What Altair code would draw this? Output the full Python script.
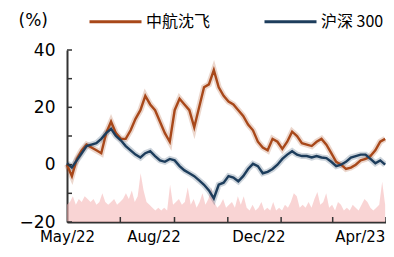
import altair as alt
import pandas as pd

series_names = ["中航沈飞", "沪深 300"]
series_colors = ["#a8481a", "#1d3d5c"]

# cumulative return (%), evenly spaced from May/22 to end Apr/23
avic = [0, -4, 2, 5, 7, 6, 5, 4, 11, 15, 11, 9, 9, 12, 16, 19, 24, 21, 19, 15,
        11, 8, 19, 23, 21, 19, 13, 20, 27, 28, 33, 27, 24, 22, 21, 19, 17, 14, 12, 8,
        6, 5, 9, 8, 5.5, 8, 11.5, 10, 7.5, 7, 6.5, 8, 9, 7, 4, 1, 0, -1.5, -1, 0,
        1.5, 2, 3, 5, 8, 9]
hs300 = [0.5, -1, 1.5, 4, 6.5, 7, 7.5, 9, 11, 12.5, 10, 8.5, 6.5, 5, 3.5, 2.5, 4, 4.7, 3, 1.5,
         1, 2, 1.5, -0.5, -2, -3, -4, -5.5, -7, -9, -11.8, -7, -6.3, -4, -4.5, -5.8, -4, -1.5, 0.3, -0.5,
         -3, -2.5, -1.5, 0, 2, 3.5, 4.7, 3.5, 3, 3, 2.5, 3, 2.5, 2.3, 1, -0.5, 0, 1, 2.5, 3,
         3.5, 3.5, 2, 0.5, 1.5, 0]
# background pink series (drawn from the -20 floor)
vol = [-14, -13, -11, -14, -12, -13, -11, -12, -13, -12, -14, -13, -10, -13, -14, -13, -12, -14, -13, -12,
       -10, -12, -9, -13, -11, -3, -9, -13, -14, -15, -16, -15, -16, -15, -16, -7, -14, -13, -12, -14,
       -13, -8, -14, -12, -15, -13, -10, -14, -12, -8, -13, -15, -14, -12, -15, -14, -13, -15, -11, -14,
       -11, -15, -16, -14, -16, -15, -13, -16, -15, -16, -13, -16, -15, -16, -14, -15, -13, -10, -11, -15,
       -14, -15, -13, -15, -12, -9.5, -14, -13, -10, -15, -14, -16, -13, -14, -16, -15, -16, -14, -15, -16,
       -14, -12, -13, -15, -16, -15, -14, -6, -14]

label_dates = [(2022, 5, 1), (2022, 8, 8), (2022, 12, 6), (2023, 4, 1)]
tick_dates = ["2022-07-01", "2022-09-01", "2022-11-01", "2023-01-01", "2023-03-01", "2023-05-01"]
y_ticks = [-20, -10, 0, 10, 20, 30, 40]

n = len(avic)
dates = pd.date_range("2022-05-01", "2023-04-30", periods=n)
df = pd.DataFrame({
    "date": list(dates) * 2,
    "series": [series_names[0]] * n + [series_names[1]] * n,
    "value": avic + hs300,
})
vdates = pd.date_range("2022-05-01", "2023-04-30", periods=len(vol))
vdf = pd.DataFrame({"date": vdates, "vol": vol, "base": [-20] * len(vol)})
tdf = pd.DataFrame({"date": pd.to_datetime(tick_dates)})
ydf = pd.DataFrame({"v": y_ticks})

xscale = alt.Scale(domain=[alt.DateTime(year=2022, month=5, date=1),
                           alt.DateTime(year=2023, month=5, date=1)])
yscale = alt.Scale(domain=[-20, 40], nice=False, zero=False)

FONT = "DejaVu Sans"

xaxis = alt.Axis(
    values=[alt.DateTime(year=y, month=m, date=d) for (y, m, d) in label_dates],
    format="%b/%y", labelFont=FONT, labelFontSize=15, labelColor="black",
    domainColor="#333333", domainWidth=2, ticks=False, grid=False, title=None,
    labelPadding=7, labelFlush=False, labelOverlap=False,
)
yaxis = alt.Axis(
    values=y_ticks, labelFont=FONT, labelFontSize=17, labelColor="black",
    domainColor="#333333", domainWidth=2, ticks=False, grid=False,
    labelPadding=12, title="(%)", titleAngle=0, titleAlign="left",
    titleX=-49, titleY=-30, titleBaseline="middle", titleFont=FONT,
    titleFontSize=17, titleFontWeight="normal", titleColor="black",
)

area = alt.Chart(vdf).mark_area(color="#f4b0b0", opacity=0.55).encode(
    x=alt.X("date:T", scale=xscale, axis=xaxis),
    y=alt.Y("vol:Q", scale=yscale, axis=yaxis),
    y2="base:Q",
)

glow = alt.Chart(df).mark_line(strokeWidth=6, opacity=0.22).encode(
    x=alt.X("date:T", scale=xscale),
    y=alt.Y("value:Q", scale=yscale),
    color=alt.Color("series:N", scale=alt.Scale(domain=series_names, range=series_colors), legend=None),
)

lines = alt.Chart(df).mark_line(strokeWidth=2.4).encode(
    x=alt.X("date:T", scale=xscale),
    y=alt.Y("value:Q", scale=yscale),
    color=alt.Color(
        "series:N", scale=alt.Scale(domain=series_names, range=series_colors),
        sort=series_names,
        legend=alt.Legend(
            orient="none", legendX=21, legendY=-56, direction="horizontal",
            symbolType="stroke", symbolSize=2704, symbolStrokeWidth=3,
            labelFont="Noto Sans CJK SC", labelFontSize=16, labelColor="black",
            columnPadding=47, labelOffset=3, title=None,
        ),
    ),
)

xticks = alt.Chart(tdf).mark_rule(color="#333333", strokeWidth=1.5).encode(
    x=alt.X("date:T", scale=xscale),
    y=alt.value(172), y2=alt.value(167),
)
yticks = alt.Chart(ydf).mark_rule(color="#333333", strokeWidth=1.5).encode(
    y=alt.Y("v:Q", scale=yscale),
    x=alt.value(0), x2=alt.value(5),
)

chart = alt.layer(area, glow, lines, xticks, yticks).resolve_scale(
    color="independent"
).properties(
    width=319, height=172,
    autosize=alt.AutoSizeParams(type="none"),
    padding={"left": 59, "top": 42, "right": 0, "bottom": 27},
    background="white",
).configure_view(stroke=None)

chart.save("out.html", embed_options={"renderer": "svg", "actions": False})
